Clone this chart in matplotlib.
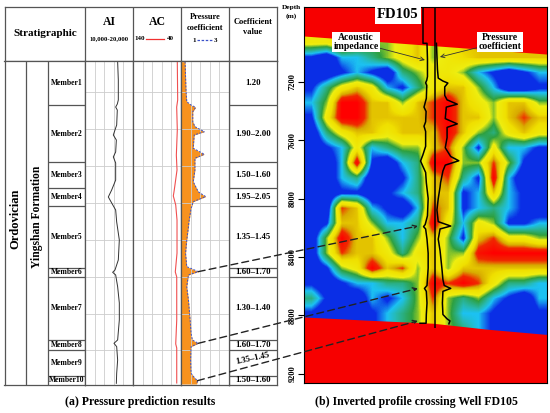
import numpy as np
import matplotlib
matplotlib.use('Agg')
import matplotlib.pyplot as plt
from matplotlib.colors import LinearSegmentedColormap
from matplotlib.patches import ConnectionPatch

plt.rcParams['font.family'] = ['Liberation Serif', 'DejaVu Serif']
plt.rcParams['font.weight'] = 'bold'

# ---------------- left panel: well log data ----------------
MEMBERS = ['Member1', 'Member2', 'Member3', 'Member4', 'Member5',
           'Member6', 'Member7', 'Member8', 'Member9', 'Member10']
MEMBER_TOPS = [6930, 7193, 7533, 7688, 7796, 8166, 8220, 8596, 8656, 8811, 8865]
COEF_TEXT = ['1.20', '1.90\u20132.00', '1.50\u20131.60', '1.95\u20132.05', '1.35\u20131.45',
             '1.60\u20131.70', '1.30\u20131.40', '1.60\u20131.70', '1.35\u20131.45', '1.50\u20131.60']

# pressure coefficient
PC_DEPTH = [6934, 7113, 7173, 7193, 7207, 7233, 7292, 7322, 7352, 7372, 7451, 7487, 7511,
            7581, 7651, 7711, 7740, 7770, 7810, 7890, 7920, 8000, 8078, 8158, 8188, 8208,
            8278, 8357, 8477, 8556, 8596, 8616, 8636, 8716, 8795, 8825, 8839, 8859]
PC_VALUE = [1.17, 1.21, 1.24, 1.42, 1.61, 1.49, 1.49, 1.58, 1.97, 1.55, 1.51, 1.97, 1.58,
            1.58, 1.51, 1.72, 2.03, 1.51, 1.42, 1.33, 1.31, 1.24, 1.19, 1.24, 1.72, 1.31,
            1.24, 1.31, 1.38, 1.42, 1.47, 1.72, 1.42, 1.40, 1.42, 1.58, 1.69, 1.65]

# acoustic impedance
AI_DEPTH = [6934, 7043, 7163, 7187, 7205, 7223, 7312, 7372, 7402, 7473, 7503, 7539, 7641,
            7700, 7742, 7778, 7820, 7891, 7999, 8118, 8178, 8192, 8208, 8278, 8375, 8477,
            8596, 8616, 8636, 8716, 8795, 8855]
AI_VALUE = [16800, 16940, 16940, 16730, 16390, 16730, 16600, 15900, 16530, 16390, 15900,
            16390, 16390, 15560, 14860, 15560, 16390, 16600, 17150, 16940, 16250, 15760,
            16390, 16800, 17150, 17150, 16800, 16040, 16600, 16800, 16600, 16530]

# acoustic (sonic) log
AC_DEPTH = [6934, 7163, 7205, 7342, 7492, 7581, 7700, 7736, 7790, 7880, 8077, 8190, 8220,
            8477, 8620, 8644, 8853]
AC_VALUE = [47.7, 46.9, 49.0, 47.7, 49.7, 48.3, 54.0, 56.0, 51.0, 48.3, 48.3, 51.9, 48.9,
            48.9, 51.0, 48.9, 48.9]

# depths joined by dashed arrows (pressure peaks)
CONNECT_DEPTH = [8188, 8616, 8839]

# ---------------- right panel: inverted impedance section ----------------
# 0 blue, 1 cyan, 2 green, 3 yellow, 4 red ; 20 rows (depth) x 16 traces
IMP_GRID = [
    [2.5, 2.5, 3, 2.5, 2, 2, 2.5, 3, 2, 2.5, 3, 3, 3, 3, 3, 3],
    [0.5, 0, 1, 1, 1.5, 2, 2.5, 3, 2, 2.5, 2.8, 3, 3, 3, 3, 3],
    [0, 0, 0.5, 1, 0.5, 0, 1.5, 2, 2.5, 2.5, 2, 1, 0.5, 0, 0.5, 1],
    [0.5, 1.5, 2.5, 3, 2.5, 1, 0.5, 1.5, 2.5, 3, 3, 2, 1, 0, 0, 0.5],
    [1, 2, 4, 4, 3, 3, 2, 3, 3.5, 4, 3, 2.5, 2, 3, 3, 2],
    [0.5, 2.5, 4, 4, 3, 3, 3, 3, 3.5, 4, 3, 3, 2, 3, 3.5, 3],
    [0, 1.5, 2.5, 3, 3, 2.5, 3, 3, 3, 4, 3, 2, 1.5, 2.5, 3, 2.5],
    [0, 0.5, 1, 2.5, 1, 1.5, 2, 2, 3, 3.5, 2, 0.5, 2.5, 1, 1, 0.5],
    [0, 0, 1, 4, 0.5, 0, 1, 1.5, 4, 4, 2, 2, 3.5, 2, 0.5, 0],
    [0, 0, 1, 1.5, 0, 0, 0.5, 1.5, 3, 3.5, 1.5, 0.5, 4, 1, 0, 0],
    [0, 0, 0.5, 0.5, 0, 0.5, 1, 1.5, 3, 3, 0.5, 1, 3, 1, 0.5, 0],
    [0, 0, 3.5, 3, 1, 0.5, 0, 1, 3.5, 3, 0.5, 1, 1.5, 1, 0.5, 0],
    [0, 0.5, 3, 3, 2, 1, 1, 1.5, 4, 2.5, 1, 2.5, 2, 0.5, 0.5, 1],
    [0, 2, 4, 3, 3, 2, 1, 2, 3, 2, 0.5, 3, 3.5, 2.5, 2.5, 2],
    [0, 2, 3.5, 3, 3, 2.5, 1.5, 2.5, 3, 2, 2, 3.8, 4, 4, 4, 4],
    [0, 0.5, 2, 2.5, 4, 3, 3.5, 2, 3, 2, 3, 3, 3, 3, 3, 3],
    [0.5, 0, 0.5, 1, 1, 1.5, 1.5, 2, 4, 3.5, 4, 3.5, 2.5, 1.5, 1.5, 1],
    [1.5, 0.5, 0.5, 0, 1, 0.5, 1, 2, 3.5, 2, 1.5, 2, 1, 0.5, 0, 1],
    [0.5, 0, 0, 0, 0.5, 1, 1.5, 2, 3, 2, 1, 1, 0.5, 0, 0, 0.5],
    [0.5, 0, 0, 0, 0.5, 1, 1.5, 2, 3, 2, 1.5, 1, 0.5, 0.5, 0, 0.5],
]
RED_TOP_COL = [0, 16]
RED_TOP_DEPTH = [6884, 7008]
RED_BOT_COL = [0, 4, 8.5, 12, 16]
RED_BOT_DEPTH = [8812, 8833, 8855, 8895, 8932]
DEPTH_TICKS = [7200, 7600, 8000, 8400, 8800, 9200]

# ---------------- layout constants ----------------
W, H = 550, 413
LOG_TOP, LOG_BOT = 6930, 8865
GRID_DEPTHS = np.arange(7115, 8700, 220.5)
PANEL_TOP, PANEL_BOT = 6685, 9265
MAP_TOP, MAP_BOT = 6885, 8945
WELL_COL, WELL_BOT = 8.62, 8888
ARROW_COL = 7.5
AI_R_TOP = 15600
EDGE = '#555555'
GRID = '#cccccc'
ORANGE = '#f7921e'
BLUE = '#3a50c8'

fig = plt.figure(figsize=(W / 100, H / 100), dpi=100)


def px_axes(x0, y0, x1, y1):
    return fig.add_axes([x0 / W, 1 - y1 / H, (x1 - x0) / W, (y1 - y0) / H])


def frame(ax, color=EDGE, lw=0.9):
    ax.set_xticks([])
    ax.set_yticks([])
    for s in ax.spines.values():
        s.set_color(color)
        s.set_linewidth(lw)


# header row
hd = px_axes(4.5, 7, 277, 61)
hd.set_xlim(4.5, 277)
hd.set_ylim(61, 7)
frame(hd)
hd.vlines([85, 133, 181, 229], 7, 61, color=EDGE, lw=0.9)
hd.text(45, 33, 'Stratigraphic', ha='center', va='center', fontsize=8)
hd.text(109, 22, 'AI', ha='center', va='center', fontsize=8.5)
hd.text(109, 39, '10,000-20,000', ha='center', va='center', fontsize=4.8)
hd.text(157, 22, 'AC', ha='center', va='center', fontsize=8.5)
hd.text(140, 39, '140', ha='center', va='center', fontsize=5)
hd.text(170, 39, '40', ha='center', va='center', fontsize=5)
hd.plot([146, 164], [38.5, 38.5], color='#f03030', lw=0.9)
hd.text(205, 17, 'Pressure', ha='center', va='center', fontsize=6)
hd.text(205, 28, 'coefficient', ha='center', va='center', fontsize=6)
hd.text(194, 40, '1', ha='center', va='center', fontsize=5)
hd.text(216, 40, '3', ha='center', va='center', fontsize=5)
hd.plot([197, 213], [39.5, 39.5], color=BLUE, lw=0.9, dashes=(2, 1.3))
hd.text(253, 22, 'Coefficient', ha='center', va='center', fontsize=6)
hd.text(253, 32, 'value', ha='center', va='center', fontsize=6)

# stratigraphic column
st = px_axes(4.5, 61, 85, 385)
st.set_xlim(4.5, 85)
st.set_ylim(LOG_BOT, LOG_TOP)
frame(st)
st.vlines([26, 48], LOG_BOT, LOG_TOP, color=EDGE, lw=0.9)
st.hlines(MEMBER_TOPS[1:-1], 48, 85, color=EDGE, lw=0.9)
mids = [(a + b) / 2 for a, b in zip(MEMBER_TOPS[:-1], MEMBER_TOPS[1:])]
for name, m in zip(MEMBERS, mids):
    st.text(66.5, m, name, ha='center', va='center', fontsize=5.5)
st.text(15, 7870, 'Ordovician', rotation=90, ha='center', va='center', fontsize=9)
st.text(37, 7860, 'Yingshan Formation', rotation=90, ha='center', va='center', fontsize=8.3)

# coefficient value column
cv = px_axes(229, 61, 277, 385)
cv.set_xlim(0, 1)
cv.set_ylim(LOG_BOT, LOG_TOP)
frame(cv)
cv.hlines(MEMBER_TOPS[1:-1], 0, 1, color=EDGE, lw=0.9)
for i, (txt, m) in enumerate(zip(COEF_TEXT, mids)):
    if MEMBERS[i] == 'Member9':
        cv.text(0.5, m - 25, txt, ha='center', va='center', fontsize=6.2, rotation=12)
    else:
        cv.text(0.5, m, txt, ha='center', va='center', fontsize=6.3)


def log_column(x0, x1, lims):
    ax = px_axes(x0, 61, x1, 385)
    ax.set_xlim(*lims)
    ax.set_ylim(LOG_BOT, LOG_TOP)
    frame(ax)
    ax.vlines(np.linspace(lims[0], lims[1], 6)[1:-1], LOG_BOT, LOG_TOP, color=GRID, lw=0.6)
    ax.hlines(GRID_DEPTHS, lims[0], lims[1], color=GRID, lw=0.6)
    return ax


ax_ai = log_column(85, 133, (10000, 20000))
ax_ai.plot(AI_VALUE, AI_DEPTH, color='#333333', lw=0.7)

ax_ac = log_column(133, 181, (140, 40))
ax_ac.plot(AC_VALUE, AC_DEPTH, color='#f05050', lw=0.8)

ax_pc = log_column(181, 229, (1, 3))
ax_pc.fill_betweenx(PC_DEPTH, 1, PC_VALUE, color=ORANGE, lw=0)
ax_pc.plot(PC_VALUE, PC_DEPTH, color=BLUE, lw=0.7, dashes=(2, 1.5))

# ---------------- right panel ----------------
cmap = LinearSegmentedColormap.from_list('imp', [
    (0.0, '#0a2ee6'), (0.15, '#0a2ee6'), (0.25, '#1cc2f2'), (0.33, '#28b8a8'),
    (0.45, '#2ea040'), (0.56, '#eeee10'), (0.7, '#f0e000'), (0.8, '#d8aa00'),
    (0.88, '#f02800'), (1.0, '#ff0000')])

mp = px_axes(304, 7, 547, 383)
mp.imshow(np.array(IMP_GRID), extent=(0, 16, MAP_BOT, MAP_TOP), aspect='auto',
          cmap=cmap, vmin=0, vmax=4, interpolation='bilinear')
mp.fill_between(RED_TOP_COL, PANEL_TOP, RED_TOP_DEPTH, color='#f70000', lw=0)
mp.fill_between(RED_BOT_COL, RED_BOT_DEPTH, PANEL_BOT, color='#f70000', lw=0)
mp.set_xlim(0, 16)
mp.set_ylim(PANEL_BOT, PANEL_TOP)
mp.set_xticks([])
mp.set_yticks(DEPTH_TICKS)
mp.set_yticklabels([str(t) for t in DEPTH_TICKS], rotation=90, va='center', fontsize=6)
mp.tick_params(axis='y', length=4, width=0.8, pad=1.5)
for s in mp.spines.values():
    s.set_linewidth(0.8)
mp.vlines(WELL_COL, PANEL_TOP, WELL_BOT, color='black', lw=1.1)

box = dict(boxstyle='square,pad=0.15', fc='white', ec='none')
mp.text(0.387, 0.979, 'FD105', transform=mp.transAxes, ha='center', va='center',
        fontsize=10.5, bbox=box)
mp.annotate('Acoustic\nimpedance', xy=(7.96, 7049), xytext=(0.214, 0.907),
            textcoords='axes fraction', ha='center', va='center', fontsize=7,
            linespacing=1.0, bbox=box,
            arrowprops=dict(arrowstyle='->', color='#333333', lw=0.6, shrinkA=0, shrinkB=0))
mp.annotate('Pressure\ncoefficient', xy=(8.95, 7028), xytext=(0.807, 0.907),
            textcoords='axes fraction', ha='center', va='center', fontsize=7,
            linespacing=1.0, bbox=box,
            arrowprops=dict(arrowstyle='->', color='#333333', lw=0.6, shrinkA=0, shrinkB=0))

# well curves drawn over the section
ai_r = px_axes(395, 7, 455, 383)
ai_r.set_xlim(7200, 25200)
ai_r.set_ylim(PANEL_BOT, PANEL_TOP)
ai_r.axis('off')
ai_r.plot([AI_R_TOP, AI_R_TOP] + AI_VALUE + [14700],
          [PANEL_TOP, AI_DEPTH[0]] + AI_DEPTH + [AI_DEPTH[-1]], color='black', lw=1.1)

pc_r = px_axes(432, 7, 484, 383)
pc_r.set_xlim(1, 3)
pc_r.set_ylim(PANEL_BOT, PANEL_TOP)
pc_r.axis('off')
pc_r.plot(PC_VALUE, PC_DEPTH, color='black', lw=1.1)

# dashed arrows linking pressure peaks to the section
for d in CONNECT_DEPTH:
    p = np.interp(d, PC_DEPTH, PC_VALUE)
    con = ConnectionPatch(xyA=(p, d), coordsA=ax_pc.transData,
                          xyB=(ARROW_COL, d), coordsB=mp.transData,
                          arrowstyle='->', color='#222222', lw=1.0,
                          linestyle=(0, (5, 3)), mutation_scale=7)
    fig.add_artist(con)

fig.text(291 / W, 1 - 8 / H, 'Depth', ha='center', va='center', fontsize=5.3)
fig.text(291 / W, 1 - 16 / H, '(m)', ha='center', va='center', fontsize=5.3)
fig.text(140 / W, 1 - 402 / H, '(a) Pressure prediction results', ha='center',
         va='center', fontsize=8.5)
fig.text(416 / W, 1 - 402 / H, '(b) Inverted profile crossing Well FD105', ha='center',
         va='center', fontsize=8.5)

fig.savefig('out.png', dpi=100)
